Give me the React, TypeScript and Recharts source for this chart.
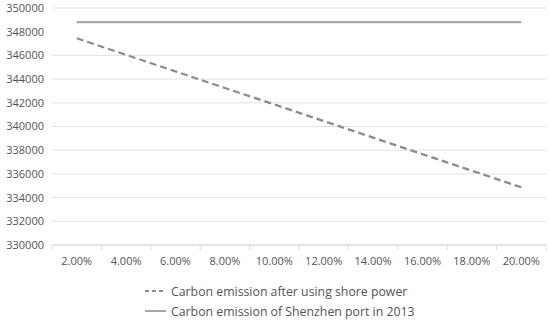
import React from 'react'
import { LineChart, Line, XAxis, YAxis, CartesianGrid, Legend } from 'recharts'

const rates = ['2.00%', '4.00%', '6.00%', '8.00%', '10.00%', '12.00%', '14.00%', '16.00%', '18.00%', '20.00%']
const afterShorePower = [347450, 346050, 344650, 343250, 341860, 340460, 339060, 337660, 336270, 334870]
const port2013 = [348800, 348800, 348800, 348800, 348800, 348800, 348800, 348800, 348800, 348800]
const yTicks = [330000, 332000, 334000, 336000, 338000, 340000, 342000, 344000, 346000, 348000, 350000]

const data = rates.map((rate, i) => ({
  rate,
  after: afterShorePower[i],
  base: port2013[i],
}))

const FONT = '"Open Sans", sans-serif'
const TEXT = '#555555'
const DASHED = '#8c8c8c'
const SOLID = '#a6a6a6'

const XTick = (props: any) => {
  const { x, y, payload, index } = props
  const off = payload.offset || 0
  return (
    <g>
      <line x1={x - off} x2={x - off} y1={y - 8} y2={y - 3} stroke="#d9d9d9" />
      {index === rates.length - 1 && (
        <line x1={x + off} x2={x + off} y1={y - 8} y2={y - 3} stroke="#d9d9d9" />
      )}
      <text x={x} y={y + 12} textAnchor="middle" fill={TEXT} fontSize={11} fontFamily={FONT}>
        {payload.value}
      </text>
    </g>
  )
}

const LegendBox = () => (
  <div style={{ fontFamily: FONT, fontSize: 12.3, color: TEXT, paddingTop: 10 }}>
    <div style={{ height: 20, display: 'flex', alignItems: 'center' }}>
      <svg width={21} height={4} style={{ marginRight: 5 }}>
        <line x1={0} x2={21} y1={2} y2={2} stroke={DASHED} strokeWidth={2} strokeDasharray="4 3" />
      </svg>
      Carbon emission after using shore power
    </div>
    <div style={{ height: 20, display: 'flex', alignItems: 'center' }}>
      <svg width={21} height={4} style={{ marginRight: 5 }}>
        <line x1={0} x2={21} y1={2} y2={2} stroke={SOLID} strokeWidth={2} />
      </svg>
      Carbon emission of Shenzhen port in 2013
    </div>
  </div>
)

export default function App() {
  return (
    <div style={{ position: 'absolute', left: 0, top: 0, width: 550, height: 323, background: '#fff' }}>
      <LineChart width={550} height={323} data={data} margin={{ top: 8, right: 4, left: 0, bottom: 2 }}>
        <CartesianGrid vertical={false} stroke="#e3e3e3" strokeWidth={1} />
        <XAxis
          dataKey="rate"
          scale="band"
          height={26}
          tickLine={false}
          axisLine={{ stroke: '#d9d9d9' }}
          tick={<XTick />}
          interval={0}
        />
        <YAxis
          width={52}
          domain={[330000, 350000]}
          ticks={yTicks}
          axisLine={false}
          tickLine={false}
          tick={{ fill: TEXT, fontSize: 11, fontFamily: FONT }}
        />
        <Legend
          verticalAlign="bottom"
          content={<LegendBox />}
          wrapperStyle={{ left: 145, width: 320, height: 50 }}
        />
        <Line
          dataKey="after"
          stroke={DASHED}
          strokeWidth={2.25}
          strokeDasharray="7 4"
          dot={false}
          isAnimationActive={false}
        />
        <Line
          dataKey="base"
          stroke={SOLID}
          strokeWidth={2.25}
          dot={false}
          isAnimationActive={false}
        />
      </LineChart>
    </div>
  )
}
